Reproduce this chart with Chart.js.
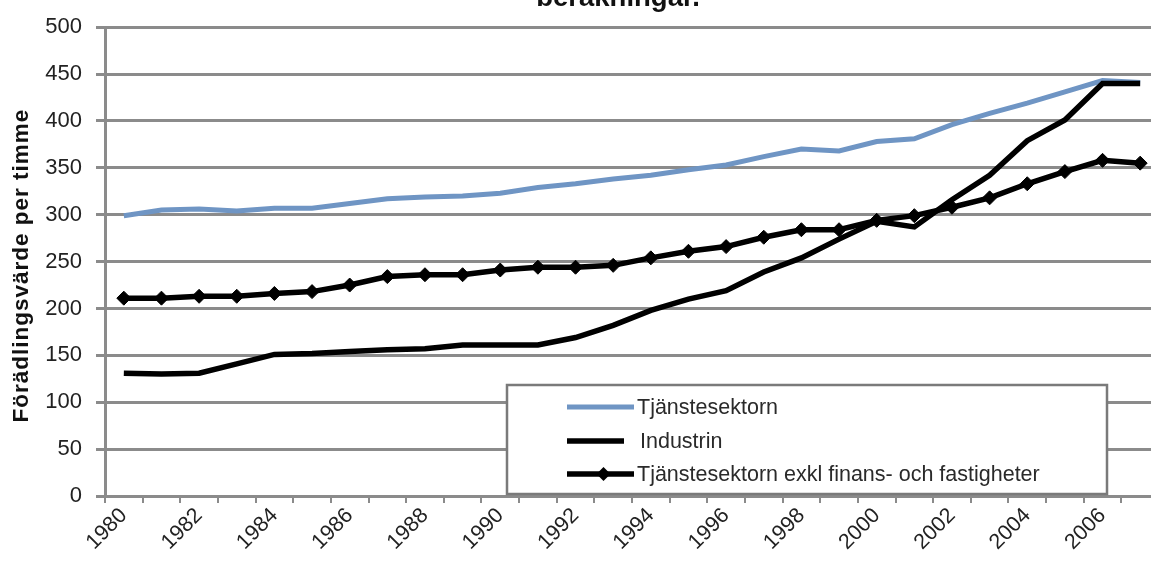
<!DOCTYPE html>
<html>
<head>
<meta charset="utf-8">
<script src="https://cdn.jsdelivr.net/npm/chart.js@4.4.1/dist/chart.umd.min.js"></script>
<style>
  html, body { margin: 0; padding: 0; background: #fff; overflow: hidden; }
  #wrap { position: relative; width: 1151px; height: 563px; overflow: hidden; }
  #c { position: absolute; left: 0; top: 0; }
</style>
</head>
<body>
<div id="wrap"><canvas id="c" width="1172" height="563"></canvas></div>
<script>
// Förädlingsvärde per arbetad timme, 1980–2007
const years = ['1980','1981','1982','1983','1984','1985','1986','1987','1988','1989',
               '1990','1991','1992','1993','1994','1995','1996','1997','1998','1999',
               '2000','2001','2002','2003','2004','2005','2006','2007'];
const labelledYears = ['1980','1982','1984','1986','1988','1990','1992','1994',
                       '1996','1998','2000','2002','2004','2006'];
const yTicks = [0, 50, 100, 150, 200, 250, 300, 350, 400, 450, 500];

const tjanstesektorn = [299, 305, 306, 304, 307, 307, 312, 317, 319, 320,
                        323, 329, 333, 338, 342, 348, 353, 362, 370, 368,
                        378, 381, 396, 408, 419, 431, 443, 441];
const industrin      = [131, 130, 131, 141, 151, 152, 154, 156, 157, 161,
                        161, 161, 169, 182, 198, 210, 219, 239, 254, 274,
                        293, 287, 316, 342, 379, 401, 440, 440];
const exklFinans     = [211, 211, 213, 213, 216, 218, 225, 234, 236, 236,
                        241, 244, 244, 246, 254, 261, 266, 276, 284, 284,
                        294, 299, 308, 318, 333, 346, 358, 355];

const seriesNames = ['Tjänstesektorn', 'Industrin', 'Tjänstesektorn exkl finans- och fastigheter'];
const titleTail = 'beräkningar.';
const yTitle = 'Förädlingsvärde per timme';

const FONT = '"Liberation Sans", Arial, Helvetica, sans-serif';
const GRID = '#8b8b8b';

// trailing line of the chart heading, clipped by the top edge
const headingPlugin = {
  id: 'heading',
  afterDraw(chart) {
    const ctx = chart.ctx;
    ctx.save();
    ctx.font = 'bold 27.5px ' + FONT;
    ctx.fillStyle = '#111';
    ctx.textAlign = 'center';
    ctx.textBaseline = 'alphabetic';
    ctx.fillText(titleTail, 618, 6);
    ctx.restore();
  }
};

// rotated y-axis caption
const yCaptionPlugin = {
  id: 'yCaption',
  afterDraw(chart) {
    const ctx = chart.ctx;
    const a = chart.chartArea;
    ctx.save();
    ctx.translate(28, (a.top + a.bottom) / 2 + 4);
    ctx.rotate(-Math.PI / 2);
    ctx.font = 'bold 22.5px ' + FONT;
    ctx.letterSpacing = '1px';
    ctx.fillStyle = '#111';
    ctx.textAlign = 'center';
    ctx.textBaseline = 'alphabetic';
    ctx.fillText(yTitle, 0, 0);
    ctx.restore();
  }
};

// boxed legend inside the plot area
const boxLegendPlugin = {
  id: 'boxLegend',
  afterDraw(chart) {
    const ctx = chart.ctx;
    const box = { x: 507, y: 385, w: 600, h: 109 };
    ctx.save();
    ctx.fillStyle = '#fff';
    ctx.fillRect(box.x, box.y, box.w, box.h);
    ctx.strokeStyle = '#7a7a7a';
    ctx.lineWidth = 2.5;
    ctx.strokeRect(box.x, box.y, box.w, box.h);
    const rowY = [407, 441, 474];
    const x0 = 567, x1 = 634;
    chart.data.datasets.forEach((ds, i) => {
      const y = rowY[i];
      ctx.strokeStyle = ds.borderColor;
      ctx.lineWidth = ds.borderWidth;
      ctx.beginPath();
      ctx.moveTo(x0, y);
      ctx.lineTo(i === 1 ? x1 - 10 : x1, y);
      ctx.stroke();
      if (ds.pointRadius > 0) {
        const r = ds.pointRadius;
        const cx = (x0 + x1) / 2 + 3;
        ctx.fillStyle = ds.pointBackgroundColor;
        ctx.beginPath();
        ctx.moveTo(cx, y - r); ctx.lineTo(cx + r, y); ctx.lineTo(cx, y + r); ctx.lineTo(cx - r, y);
        ctx.closePath();
        ctx.fill();
      }
      ctx.fillStyle = '#2a2a2a';
      ctx.font = '21.5px ' + FONT;
      ctx.textAlign = 'left';
      ctx.textBaseline = 'middle';
      ctx.fillText(ds.label, i === 1 ? 640 : 637, y + 1);
    });
    ctx.restore();
  }
};

new Chart(document.getElementById('c'), {
  type: 'line',
  data: {
    labels: years,
    datasets: [
      { label: seriesNames[0], data: tjanstesektorn, borderColor: '#6f95c4', borderWidth: 5,
        pointRadius: 0, tension: 0, order: 3 },
      { label: seriesNames[1], data: industrin, borderColor: '#000', borderWidth: 5.5,
        pointRadius: 0, tension: 0, order: 2 },
      { label: seriesNames[2], data: exklFinans, borderColor: '#000', borderWidth: 5.5,
        pointStyle: 'rectRot', pointRadius: 7, pointBackgroundColor: '#000',
        pointBorderColor: '#000', pointBorderWidth: 1, tension: 0, order: 1 }
    ]
  },
  options: {
    responsive: false,
    animation: false,
    layout: { padding: { top: 22, left: 0, right: 13, bottom: 0 } },
    plugins: { legend: { display: false }, tooltip: { enabled: false }, title: { display: false } },
    scales: {
      x: {
        offset: true,
        grid: { offset: true, drawOnChartArea: false, color: GRID, lineWidth: 2, tickLength: 7 },
        border: { color: GRID, width: 3 },
        ticks: {
          autoSkip: false, maxRotation: 45, minRotation: 45, padding: 0,
          color: '#222', font: { family: FONT, size: 21.5 },
          callback(value) {
            const lab = this.getLabelForValue(value);
            return labelledYears.includes(lab) ? lab : '';
          }
        },
        afterFit(scale) { scale.height = 67; }
      },
      y: {
        min: 0, max: 500,
        afterBuildTicks(scale) { scale.ticks = yTicks.map(v => ({ value: v })); },
        grid: { color: GRID, lineWidth: 3, tickLength: 9 },
        border: { color: GRID, width: 3 },
        ticks: { padding: 14, color: '#222', font: { family: FONT, size: 22 } },
        afterFit(scale) { scale.width = 105; }
      }
    }
  },
  plugins: [headingPlugin, yCaptionPlugin, boxLegendPlugin]
});
</script>
</body>
</html>
